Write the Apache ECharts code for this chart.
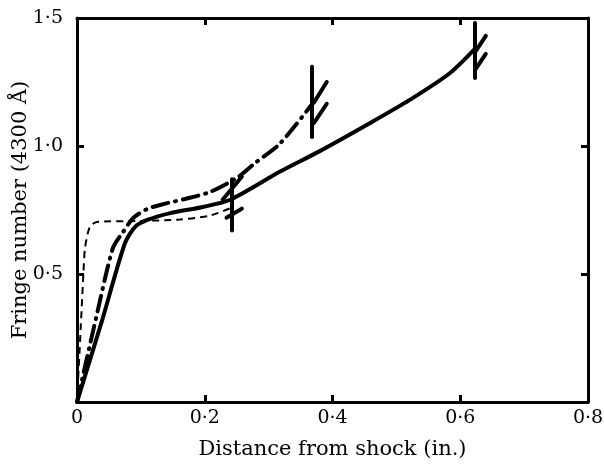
<!DOCTYPE html>
<html><head><meta charset="utf-8">
<script src="https://cdn.jsdelivr.net/npm/echarts@6/dist/echarts.min.js"></script>
<style>html,body{margin:0;padding:0;background:#fff}#c{width:604px;height:466px}</style>
</head><body><div id="c"></div>
<script>
const xTickLabels = ['0', '0·2', '0·4', '0·6', '0·8'];
const yTickLabels = ['', '0·5', '1·0', '1·5'];
const solidCurve = [[0,0],[0.04,0.325],[0.075,0.62],[0.091,0.684],[0.11,0.711],[0.146,0.738],[0.197,0.762],[0.24,0.79],[0.318,0.9],[0.38,0.98],[0.459,1.09],[0.521,1.18],[0.584,1.285],[0.627,1.39]];
const dashDotCurve = [[0,0],[0.03,0.33],[0.056,0.6],[0.072,0.664],[0.088,0.719],[0.11,0.754],[0.135,0.773],[0.169,0.793],[0.208,0.82],[0.25,0.875],[0.279,0.934],[0.318,1.01],[0.37,1.17]];
const dashedCurve = [[0,0],[0.006,0.3],[0.01,0.5],[0.0125,0.6],[0.02,0.684],[0.031,0.703],[0.094,0.707],[0.161,0.713],[0.208,0.728],[0.243,0.76]];
const breakStrokes = [
  [[0.243,0.67],[0.243,0.87]], [[0.228,0.79],[0.258,0.88]], [[0.234,0.72],[0.258,0.755]],
  [[0.368,1.035],[0.368,1.31]], [[0.371,1.17],[0.391,1.25]], [[0.371,1.09],[0.391,1.165]],
  [[0.623,1.266],[0.623,1.48]], [[0.624,1.37],[0.64,1.43]], [[0.624,1.30],[0.64,1.36]]
];
const FONT = 'DejaVu Serif';
const chart = echarts.init(document.getElementById('c'));
const axisLine = {show:true, onZero:false, lineStyle:{color:'#000', width:3}};
const tick = {show:true, inside:true, length:7, lineStyle:{color:'#000', width:3}};
chart.setOption({
  animation:false,
  grid:{left:77, right:16, top:18, bottom:64, containLabel:false, outerBoundsMode:'none'},
  xAxis:[
    {type:'value', min:0, max:0.8, interval:0.2, position:'bottom',
     axisLine, axisTick:tick, splitLine:{show:false},
     axisLabel:{color:'#000', fontFamily:FONT, fontSize:19, margin:7,
       formatter:(v)=>xTickLabels[Math.round(v/0.2)]},
     name:'Distance from shock (in.)', nameLocation:'middle', nameGap:37,
     nameTextStyle:{color:'#000', fontFamily:FONT, fontSize:21}},
    {type:'value', min:0, max:0.8, interval:0.2, position:'top',
     axisLine, axisTick:tick, axisLabel:{show:false}, splitLine:{show:false}}
  ],
  yAxis:[
    {type:'value', min:0, max:1.5, interval:0.5, position:'left',
     axisLine, axisTick:tick, splitLine:{show:false},
     axisLabel:{color:'#000', fontFamily:FONT, fontSize:19, margin:14,
       formatter:(v)=>yTickLabels[Math.round(v/0.5)]},
     name:'Fringe number (4300 Å)', nameLocation:'middle', nameGap:46, nameMoveOverlap:false,
     nameTextStyle:{color:'#000', fontFamily:FONT, fontSize:21}},
    {type:'value', min:0, max:1.5, interval:0.5, position:'right',
     axisLine, axisTick:tick, axisLabel:{show:false}, splitLine:{show:false}}
  ],
  series:[
    {type:'line', data:solidCurve, smooth:0.25, symbol:'none',
     lineStyle:{color:'#000', width:4}},
    {type:'line', data:dashDotCurve, smooth:0.25, symbol:'none',
     lineStyle:{color:'#000', width:4, type:[16,7,1,7], cap:'round'}},
    {type:'line', data:dashedCurve, smooth:0.25, symbol:'none',
     lineStyle:{color:'#000', width:2, type:[7,5]}},
    {type:'lines', coordinateSystem:'cartesian2d', polyline:false,
     data:breakStrokes.map(c=>({coords:c})),
     lineStyle:{color:'#000', width:4, cap:'round', opacity:1}}
  ]
});
</script></body></html>
